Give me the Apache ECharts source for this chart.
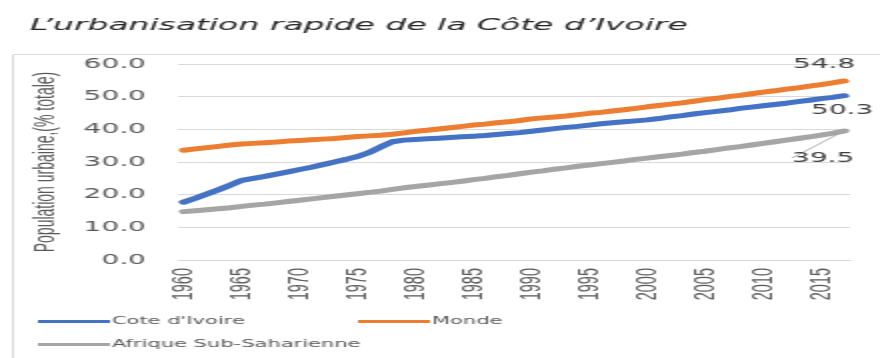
<!DOCTYPE html>
<html>
<head>
<meta charset="utf-8">
<script src="https://cdn.jsdelivr.net/npm/echarts@6/dist/echarts.min.js"></script>
<style>
  html, body { margin: 0; padding: 0; background: #ffffff; overflow: hidden; }
  /* the figure is drawn at half width and stretched horizontally */
  #chart { width: 440px; height: 358px; transform: scaleX(2); transform-origin: 0 0; }
</style>
</head>
<body>
<div id="chart"></div>
<script>
// Population urbaine (% de la population totale), 1960-2017
const years = [];
for (let y = 1960; y <= 2017; y++) years.push(String(y));

const coteIvoire = [
  17.7, 18.9, 20.2, 21.5, 22.9, 24.4, 25.0, 25.6, 26.3, 27.0,
  27.7, 28.4, 29.2, 30.0, 30.8, 31.7, 32.9, 34.6, 36.2, 36.7,
  36.9, 37.1, 37.3, 37.5, 37.7, 37.9, 38.1, 38.4, 38.7, 39.0,
  39.4, 39.8, 40.2, 40.6, 40.9, 41.3, 41.7, 42.0, 42.3, 42.6,
  42.9, 43.3, 43.8, 44.2, 44.7, 45.1, 45.5, 45.9, 46.4, 46.8,
  47.2, 47.6, 48.0, 48.5, 48.9, 49.4, 49.8, 50.3
];
const monde = [
  33.6, 34.0, 34.4, 34.8, 35.2, 35.5, 35.7, 35.9, 36.1, 36.4,
  36.6, 36.8, 37.0, 37.2, 37.5, 37.8, 38.0, 38.2, 38.5, 38.9,
  39.4, 39.7, 40.1, 40.5, 40.9, 41.3, 41.6, 42.0, 42.3, 42.7,
  43.2, 43.5, 43.8, 44.1, 44.5, 44.9, 45.2, 45.6, 46.0, 46.4,
  46.9, 47.3, 47.7, 48.1, 48.6, 49.1, 49.5, 50.0, 50.4, 50.9,
  51.4, 51.8, 52.3, 52.7, 53.2, 53.7, 54.2, 54.8
];
const afriqueSubSaharienne = [
  14.8, 15.1, 15.4, 15.7, 16.0, 16.4, 16.8, 17.1, 17.5, 17.9,
  18.3, 18.7, 19.1, 19.5, 19.9, 20.3, 20.7, 21.1, 21.6, 22.1,
  22.5, 22.9, 23.3, 23.7, 24.1, 24.6, 25.0, 25.5, 25.9, 26.4,
  26.9, 27.3, 27.8, 28.2, 28.7, 29.1, 29.5, 29.9, 30.3, 30.8,
  31.2, 31.6, 32.0, 32.4, 32.9, 33.3, 33.8, 34.3, 34.7, 35.2,
  35.7, 36.2, 36.7, 37.2, 37.7, 38.2, 38.8, 39.5
];
const yTicks = [0, 10, 20, 30, 40, 50, 60];

const labelFont = { fontFamily: 'DejaVu Sans', fontSize: 14, color: '#404040' };

// only the last point of each series carries its value label
function withEndLabel(values) {
  return values.map((v, i) => i === values.length - 1
    ? { value: v, label: { show: true } }
    : v);
}

function lineSeries(name, values, color, labelCfg, extra) {
  return Object.assign({
    name: name,
    type: 'line',
    data: withEndLabel(values),
    showSymbol: true,
    showAllSymbol: true,
    symbol: 'circle',
    symbolSize: 0,
    lineStyle: { color: color, width: 5, cap: 'round', join: 'round' },
    itemStyle: { color: color },
    label: Object.assign({ show: false, position: 'inside',
      formatter: p => p.value.toFixed(1) }, labelFont, labelCfg),
    emphasis: { disabled: true },
    z: 3
  }, extra || {});
}

const chart = echarts.init(document.getElementById('chart'));
chart.setOption({
  animation: false,
  backgroundColor: '#ffffff',
  title: {
    text: 'L\u2019urbanisation rapide de la C\u00f4te d\u2019Ivoire',
    left: 10, top: 12,
    textStyle: { fontFamily: 'DejaVu Sans', fontStyle: 'italic', fontWeight: 'normal',
      fontSize: 16.5, color: '#262626' }
  },
  graphic: [{
    type: 'rect', left: 4, top: 52, silent: true,
    shape: { width: 1000, height: 1000 },
    style: { fill: 'none', stroke: '#d9d9d9', lineWidth: 1 }
  }],
  grid: { left: 89, right: 15, top: 64, bottom: 98, containLabel: false },
  legend: [
    { data: ['Cote d\'Ivoire'], left: 19, top: 316 },
    { data: ['Monde'], left: 179, top: 316 },
    { data: ['Afrique Sub-Saharienne'], left: 19, top: 339 }
  ].map(l => Object.assign({
    orient: 'horizontal', icon: 'rect', itemWidth: 36, itemHeight: 3,
    itemGap: 0, padding: 0, selectedMode: false,
    textStyle: { fontFamily: 'DejaVu Sans', fontSize: 10.5, color: '#595959',
      padding: [0, 0, 0, -4] }
  }, l)),
  xAxis: {
    type: 'category',
    data: years,
    boundaryGap: true,
    axisLine: { show: true, lineStyle: { color: '#d9d9d9', width: 1 } },
    axisTick: { show: false },
    axisLabel: { interval: 4, rotate: 90, margin: 8,
      fontFamily: 'Liberation Sans', fontSize: 14.5, color: '#595959' },
    splitLine: { show: false }
  },
  yAxis: {
    type: 'value',
    min: yTicks[0], max: yTicks[yTicks.length - 1], interval: 10,
    name: 'Population urbaine,(% totale)',
    nameLocation: 'middle', nameGap: 59, nameRotate: 90,
    nameTextStyle: { fontFamily: 'Liberation Sans', fontSize: 14, color: '#595959' },
    axisLine: { show: false },
    axisTick: { show: false },
    axisLabel: { margin: 16, fontFamily: 'DejaVu Sans', fontSize: 14, color: '#595959',
      formatter: v => v.toFixed(1) },
    splitLine: { lineStyle: { color: '#d9d9d9', width: 1 } }
  },
  series: [
    lineSeries('Cote d\'Ivoire', coteIvoire, '#4472C4', { offset: [-1, 15] }),
    lineSeries('Monde', monde, '#ED7D31', { offset: [-10, -17] }),
    lineSeries('Afrique Sub-Saharienne', afriqueSubSaharienne, '#A5A5A5', {},
      { labelLayout: { dx: -10.5, dy: 27 },
        labelLine: { show: true, lineStyle: { color: '#A5A5A5', width: 1 } } })
  ]
});
</script>
</body>
</html>
